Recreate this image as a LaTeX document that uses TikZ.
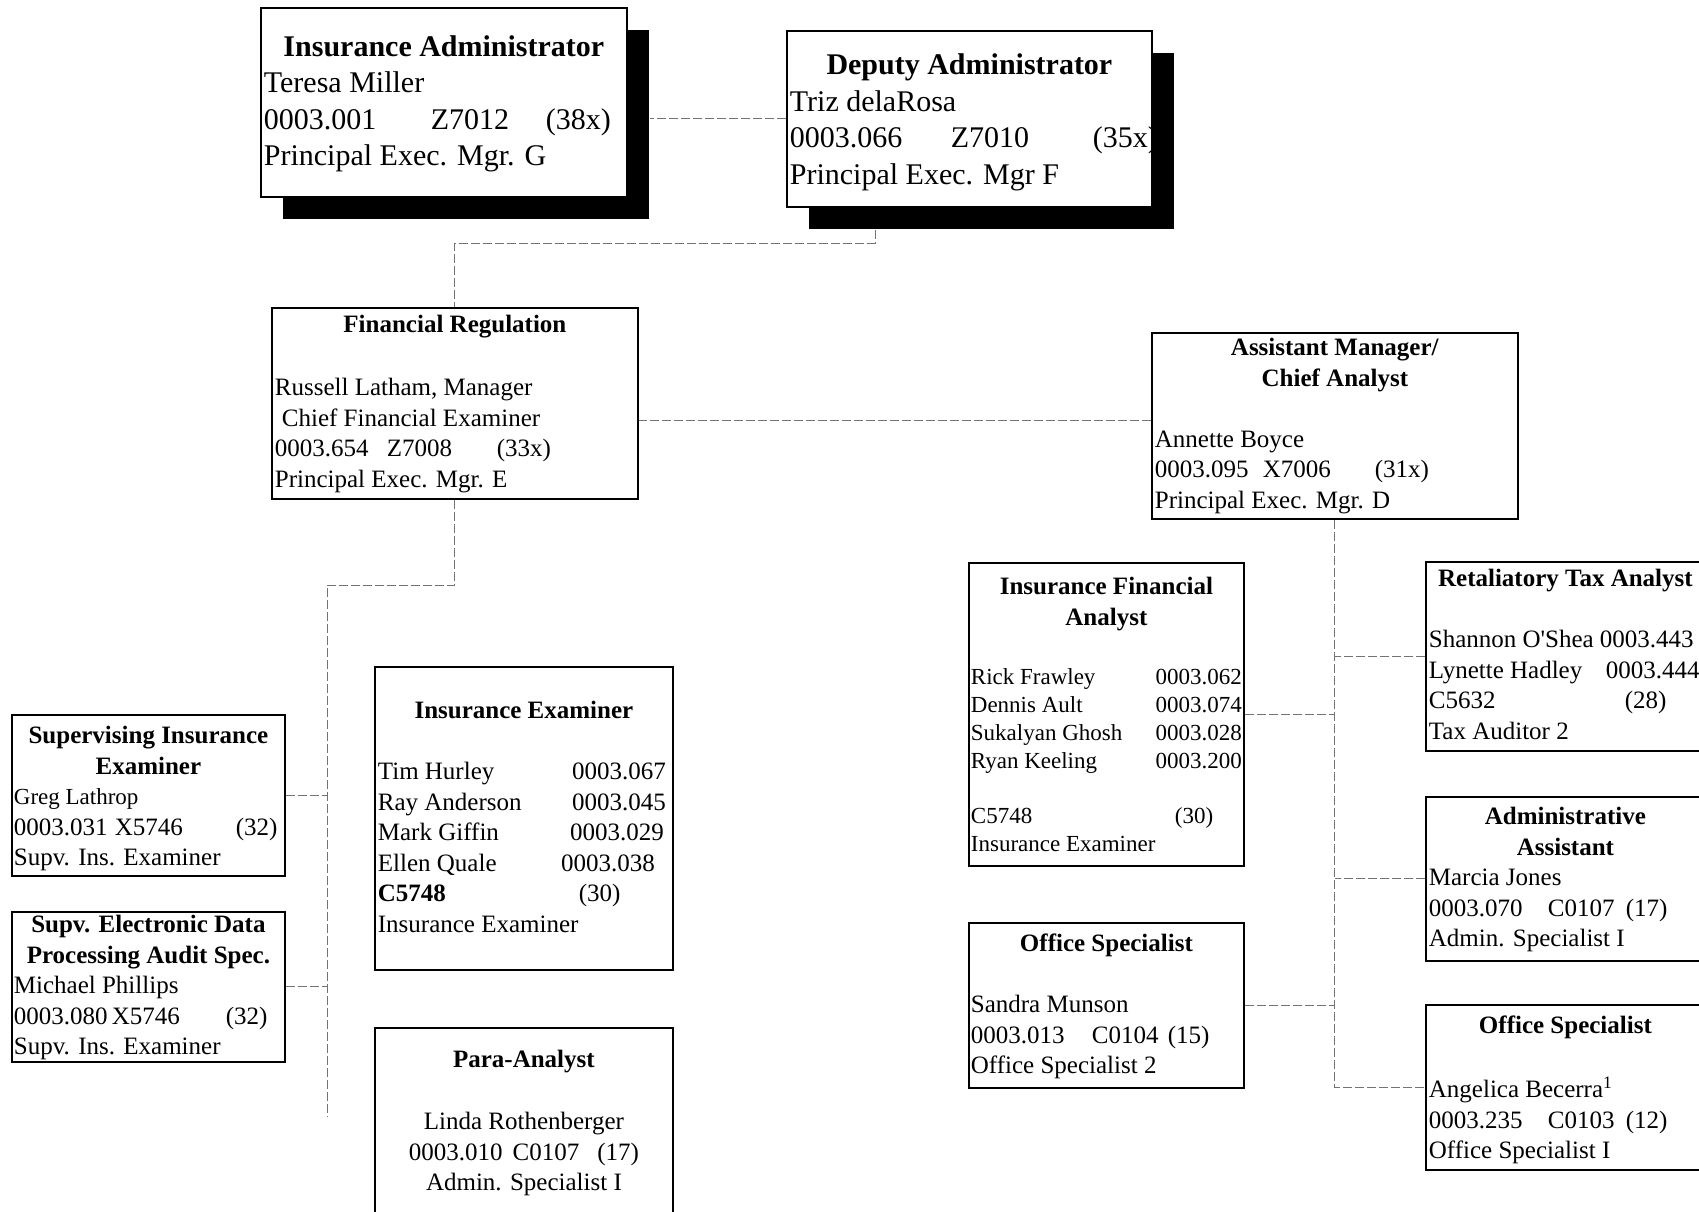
\documentclass[tikz,border=0pt]{standalone}
\usepackage{fontspec}
\setmainfont{Liberation Serif}
\usepackage{tikz}
\usetikzlibrary{positioning,calc,shadows}

\newcommand{\orgtopfont}{\fontsize{30}{36.5}\selectfont}
\newcommand{\orgfont}{\fontsize{25}{30.5}\selectfont}
\newcommand{\orgsmallfont}{\fontsize{23}{28}\selectfont}
\newcommand{\card}[3]{\parbox[t][#2][t]{#1}{#3}}
\newcommand{\fld}[2]{\makebox[#1][l]{#2}}
\newcommand{\startat}[1]{\rule{0pt}{#1}}

\tikzset{
  post/.style={draw, line width=1.8pt, rectangle, anchor=north west, inner xsep=3pt, inner ysep=0pt, fill=white},
  boss/.style={post, drop shadow={shadow xshift=22pt, shadow yshift=-22pt, opacity=1, fill=black}},
  link/.style={draw=black!55, line width=1pt, dash pattern=on 9pt off 3pt}
}

\begin{document}
\begin{tikzpicture}[x=1pt, y=-1pt]
    \useasboundingbox (0,0) rectangle (1699,1212);
    \clip (0,0) rectangle (1699,1212);

    % Administrator and deputy
    \node[boss] (ia) at (260,7) {\card{360pt}{189pt}{\orgtopfont
      {\centering\startat{48.5pt}\textbf{Insurance Administrator}\par}
      Teresa Miller\\
      \fld{167pt}{0003.001}\fld{115pt}{Z7012}(38x)\\
      Principal Exec. Mgr. G}};
    \node[boss] (da) at (786,30) {\card{359pt}{176pt}{\orgtopfont
      {\centering\startat{44pt}\textbf{Deputy Administrator}\par}
      Triz delaRosa\\
      \fld{161pt}{0003.066}\fld{142pt}{Z7010}(35x)\\
      Principal Exec. Mgr F}};

    % Managers
    \node[post] (fr) at (271,307) {\card{360pt}{191pt}{\orgfont
      {\centering\startat{25pt}\textbf{Financial Regulation}\par}
      \vspace{32.5pt}
      Russell Latham, Manager\\
      \hspace*{7pt}Chief Financial Examiner\\
      \fld{112pt}{0003.654}\fld{110pt}{Z7008}(33x)\\
      Principal Exec. Mgr. E}};
    \node[post] (am) at (1151,332) {\card{360pt}{186pt}{\orgfont
      {\centering\startat{23pt}\textbf{Assistant Manager/}\\\textbf{Chief Analyst}\par}
      \vspace{30.5pt}
      Annette Boyce\\
      \fld{108pt}{0003.095}\fld{112pt}{X7006}(31x)\\
      Principal Exec. Mgr. D}};

    % Financial Regulation staff
    \node[post, inner xsep=2pt] (sie) at (11,714) {\card{269pt}{161pt}{\orgfont
      {\centering\startat{29pt}\textbf{Supervising Insurance}\\\textbf{Examiner}\par}
      {\orgsmallfont Greg Lathrop}\\
      \fld{101pt}{0003.031}\fld{121pt}{X5746}(32)\\
      Supv. Ins. Examiner}};
    \node[post, inner xsep=2pt] (edp) at (11,911) {\card{269pt}{150pt}{\orgfont
      {\centering\startat{21pt}\textbf{Supv. Electronic Data}\\\textbf{Processing Audit Spec.}\par}
      Michael Phillips\\
      \fld{98pt}{0003.080}\fld{114pt}{X5746}(32)\\
      Supv. Ins. Examiner}};
    \node[post] (ie) at (374,666) {\card{292pt}{303pt}{\orgfont
      {\centering\startat{52pt}\textbf{Insurance Examiner}\par}
      \vspace{30.5pt}
      Tim Hurley\hfill 0003.067\hspace*{4pt}\\
      Ray Anderson\hfill 0003.045\hspace*{4pt}\\
      Mark Giffin\hfill 0003.029\hspace*{6pt}\\
      Ellen Quale\hfill 0003.038\hspace*{15pt}\\
      \fld{201pt}{\textbf{C5748}}(30)\\
      Insurance Examiner}};
    \node[post] (pa) at (374,1027) {\card{292pt}{200pt}{\orgfont\centering
      \startat{40pt}\textbf{Para-Analyst}\par
      \vspace{31.5pt}
      Linda Rothenberger\\
      0003.010\hspace{10pt}C0107\hspace{18pt}(17)\\
      Admin. Specialist I}};

    % Chief Analyst staff
    \node[post, inner xsep=2pt] (ifa) at (968,562) {\card{271pt}{303pt}{\orgfont
      {\centering\startat{32pt}\textbf{Insurance Financial}\\\textbf{Analyst}\par}
      \vspace{31pt}\orgsmallfont
      Rick Frawley\hfill 0003.062\\
      Dennis Ault\hfill 0003.074\\
      Sukalyan Ghosh\hfill 0003.028\\
      Ryan Keeling\hfill 0003.200\\[27pt]
      \fld{204pt}{C5748}(30)\\
      Insurance Examiner}};
    \node[post, inner xsep=2pt] (osl) at (968,922) {\card{271pt}{165pt}{\orgfont
      {\centering\startat{29pt}\textbf{Office Specialist}\par}
      \vspace{30.5pt}
      Sandra Munson\\
      \fld{121pt}{0003.013}\fld{76pt}{C0104}(15)\\
      Office Specialist 2}};
    \node[post] (rta) at (1425,561) {\card{273pt}{189pt}{\orgfont
      {\centering\startat{25pt}\textbf{Retaliatory Tax Analyst}\par}
      \vspace{30.5pt}
      \fld{171pt}{Shannon O\textquotesingle Shea}0003.443\\
      \fld{177pt}{Lynette Hadley}0003.444\\
      \fld{196pt}{C5632}(28)\\
      Tax Auditor 2}};
    \node[post] (aa) at (1425,796) {\card{273pt}{164pt}{\orgfont
      {\centering\startat{28pt}\textbf{Administrative}\\\textbf{Assistant}\par}
      Marcia Jones\\
      \fld{119pt}{0003.070}\fld{78pt}{C0107}(17)\\
      Admin. Specialist I}};
    \node[post] (osr) at (1425,1004) {\card{273pt}{165pt}{\orgfont
      {\centering\startat{29pt}\textbf{Office Specialist}\par}
      \vspace{33.5pt}
      Angelica Becerra\textsuperscript{1}\\
      \fld{119pt}{0003.235}\fld{78pt}{C0103}(12)\\
      Office Specialist I}};

    % Connectors
    \coordinate (dadrop) at (875,230);
    \coordinate (dajog) at (875,243);
    \coordinate (fbus) at (327,585);
    \coordinate (fend) at (327,1116);
    \draw[link] (da.west) -- ([xshift=22pt]da.west -| ia.east);
    \draw[link] (dadrop) -- (dajog) -| (fr.north);
    \draw[link] ([yshift=5pt]am.west) -- ([yshift=5pt]am.west -| fr.east);
    \draw[link] (fr.south) |- (fbus) -- (fend);
    \draw[link] (sie.east) -- (sie.east -| fbus);
    \draw[link] (edp.east) -- (edp.east -| fbus);
    \draw[link] (am.south) -- (am.south |- osr.west) -- (osr.west);
    \draw[link] (ifa.east) -- (ifa.east -| am.south);
    \draw[link] (osl.east) -- (osl.east -| am.south);
    \draw[link] (rta.west) -- (rta.west -| am.south);
    \draw[link] (aa.west) -- (aa.west -| am.south);
\end{tikzpicture}
\end{document}
